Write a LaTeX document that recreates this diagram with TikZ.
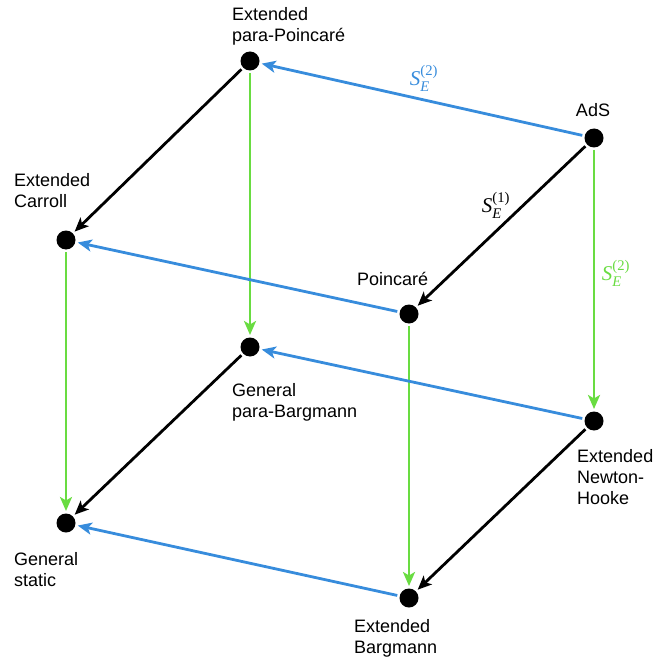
\documentclass[tikz,border=0pt]{standalone}
\usepackage{fontspec}
\setmainfont{Liberation Sans}
\newfontfamily\tms{Liberation Serif}
\usepackage{amsmath}
\usetikzlibrary{arrows.meta,positioning}
\definecolor{flowblue}{RGB}{55,140,220}
\definecolor{flowgreen}{RGB}{105,220,65}
\tikzset{
  dotnode/.style={circle,fill=black,minimum size=19pt,inner sep=0pt,outer sep=2.5pt},
  lbl/.style={anchor=north west,inner sep=0pt,align=left,font=\fontsize{18}{21}\selectfont},
  mlbl/.style={inner sep=0pt,font=\fontsize{21}{24}\selectfont},
  arr/.style={-{Stealth[length=14pt,width=12pt,inset=3.5pt]},line width=2.8pt,color=black},
  bluearr/.style={arr,color=flowblue},
  greenarr/.style={arr,color=flowgreen}
}
\newcommand{\contr}[1]{$\text{\tms\itshape S}_{\text{\tms\itshape E}}^{\text{\tms(#1)}}$}
\begin{document}
\begin{tikzpicture}[x=1pt,y=-1pt]
  \useasboundingbox (0,0) rectangle (654,660);

  % cube vertices
  \node[dotnode] (pPoinc) at (250,61) {};
  \node[dotnode] (ads) at (594,138) {};
  \node[dotnode] (carroll) at (66,240) {};
  \node[dotnode] (poinc) at (409,314) {};
  \node[dotnode] (pBarg) at (250,347) {};
  \node[dotnode] (newtonH) at (594,421) {};
  \node[dotnode] (genStatic) at (66,523) {};
  \node[dotnode] (barg) at (409,598) {};

  % names
  \node[lbl] (lblPPoinc) at (232,7) {Extended\\para-Poincaré};
  \node[lbl,anchor=north] (lblAds) at (593,103) {AdS};
  \node[lbl] (lblCarroll) at (14,173) {Extended\\Carroll};
  \node[lbl] (lblPoinc) at (357,272) {Poincaré};
  \node[lbl] (lblPBarg) at (232,383) {General\\para-Bargmann};
  \node[lbl] (lblNewtonH) at (577,449) {Extended\\Newton-\\Hooke};
  \node[lbl] (lblGenStatic) at (14,552) {General\\static};
  \node[lbl] (lblBarg) at (354,619) {Extended\\Bargmann};

  % contractions
  \node[mlbl,text=flowblue] (sBlue) at (424,78) {\contr{2}};
  \node[mlbl] (sBlack) at (496,205) {\contr{1}};
  \node[mlbl,text=flowgreen] (sGreen) at (616,273) {\contr{2}};

  \draw[bluearr] (ads)--(pPoinc);
  \draw[arr] (ads)--(poinc);
  \draw[greenarr] (ads)--(newtonH);
  \draw[arr] (pPoinc)--(carroll);
  \draw[greenarr] (pPoinc)--(pBarg);
  \draw[bluearr] (poinc)--(carroll);
  \draw[greenarr] (poinc)--(barg);
  \draw[bluearr] (newtonH)--(pBarg);
  \draw[arr] (newtonH)--(barg);
  \draw[greenarr] (carroll)--(genStatic);
  \draw[arr] (pBarg)--(genStatic);
  \draw[bluearr] (barg)--(genStatic);
\end{tikzpicture}
\end{document}
